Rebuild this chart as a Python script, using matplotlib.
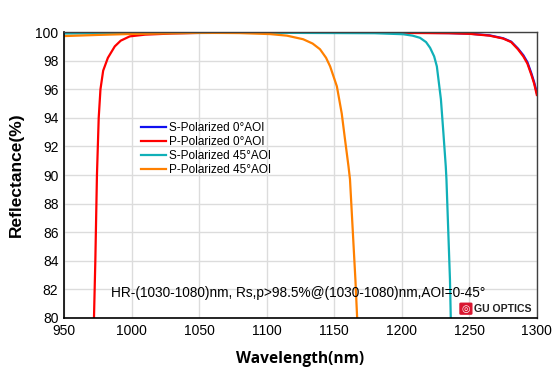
import matplotlib.pyplot as plt
from matplotlib.patches import FancyBboxPatch

# S-Polarized 0°AOI
wl_s0 = [950, 1000, 1100, 1200, 1235, 1250, 1265, 1275, 1281, 1286, 1290, 1293,
         1296, 1298, 1300]
r_s0 = [99.95, 99.96, 99.97, 99.96, 99.93, 99.89, 99.77, 99.57, 99.33, 98.85, 98.38, 97.9,
        97.1, 96.5, 95.75]

# P-Polarized 0°AOI
wl_p0 = [971.5, 972.2, 973.2, 974.4, 975.7, 977, 979, 982.5, 987.6, 992, 998.7, 1010,
         1030, 1050, 1100, 1150, 1200, 1235, 1250, 1265, 1275, 1281, 1286, 1290, 1293,
         1296, 1298, 1300]
r_p0 = [77, 80, 84, 90, 94, 96, 97.3, 98.2, 99.0, 99.4, 99.7, 99.82,
        99.9, 99.94, 99.95, 99.95, 99.94, 99.92, 99.88, 99.75, 99.55, 99.3, 98.8, 98.3, 97.8,
        97.0, 96.4, 95.6]

# S-Polarized 45°AOI
wl_s45 = [950, 1000, 1100, 1180, 1201, 1208, 1213.5, 1218, 1221, 1224, 1226, 1229,
          1230.8, 1232.6, 1233.1, 1235.7, 1236.3, 1237]
r_s45 = [99.9, 99.93, 99.95, 99.92, 99.85, 99.75, 99.6, 99.3, 98.9, 98.3, 97.6, 95.3,
         93, 90.6, 89.7, 82.7, 80, 77]

# P-Polarized 45°AOI
wl_p45 = [950, 975, 1000, 1050, 1080, 1102.5, 1115, 1127, 1134, 1139.5, 1144, 1147,
          1152, 1155.6, 1158, 1160.6, 1161.7, 1165.7, 1167, 1167.5]
r_p45 = [99.72, 99.8, 99.87, 99.95, 99.93, 99.86, 99.75, 99.5, 99.2, 98.8, 98.2, 97.6,
         96.2, 94.3, 92.5, 90.6, 89.7, 82.7, 80, 77]

labels = ['S-Polarized 0°AOI', 'P-Polarized 0°AOI', 'S-Polarized 45°AOI', 'P-Polarized 45°AOI']
colors = ['#1010f0', '#ff0000', '#10b0b8', '#ff8000']

plt.rcParams['font.family'] = ['Liberation Sans', 'DejaVu Sans']

fig = plt.figure(figsize=(5.54, 3.73), dpi=100)
ax = fig.add_axes([0.1155, 0.1475, 0.8535, 0.7665])

ax.plot(wl_s0, r_s0, color=colors[0], lw=1.6, label=labels[0])
ax.plot(wl_p0, r_p0, color=colors[1], lw=1.6, label=labels[1])
ax.plot(wl_s45, r_s45, color=colors[2], lw=1.6, label=labels[2])
ax.plot(wl_p45, r_p45, color=colors[3], lw=1.6, label=labels[3])

ax.set_xlim(950, 1300)
ax.set_ylim(80, 100)
ax.set_xticks(range(950, 1301, 50))
ax.set_yticks(range(80, 101, 2))
ax.grid(True, color='#dcdcdc', lw=1.0)
ax.set_axisbelow(True)
ax.tick_params(length=0, labelsize=10, pad=4)
for side in ['left', 'bottom']:
    ax.spines[side].set_color('black')
    ax.spines[side].set_linewidth(1.2)
for side in ['right', 'top']:
    ax.spines[side].set_color('#404040')
    ax.spines[side].set_linewidth(1.0)

ax.set_ylabel('Reflectance(%)', fontsize=12.5, fontweight='bold', labelpad=8)
ax.set_xlabel('Wavelength(nm)', fontsize=11.2, fontweight='bold', family='Open Sans', labelpad=10)

leg = ax.legend(loc='upper left', bbox_to_anchor=(0.163, 0.684), fontsize=8.5, frameon=False,
                handlelength=2.1, handletextpad=0.25, labelspacing=0.15, borderpad=0.0,
                borderaxespad=0.0)

ax.text(0.0994, 0.089, 'HR-(1030-1080)nm, Rs,p>98.5%@(1030-1080)nm,AOI=0-45°',
        transform=ax.transAxes, fontsize=9.8, va='center', ha='left')

# logo
logo = FancyBboxPatch((0.8395, 0.0155), 0.021, 0.034, boxstyle='round,pad=0.002',
                      transform=ax.transAxes, color='#d8152f', zorder=5)
ax.add_patch(logo)
ax.text(0.8665, 0.0325, 'GU OPTICS', transform=ax.transAxes, fontsize=7.6, fontweight='bold',
        va='center', ha='left', color='#222222', zorder=5)
ax.text(0.8502, 0.0325, '◎', transform=ax.transAxes, fontsize=7, color='white',
        va='center', ha='center', family='DejaVu Sans', zorder=6)

fig.savefig('out.png', dpi=100)
